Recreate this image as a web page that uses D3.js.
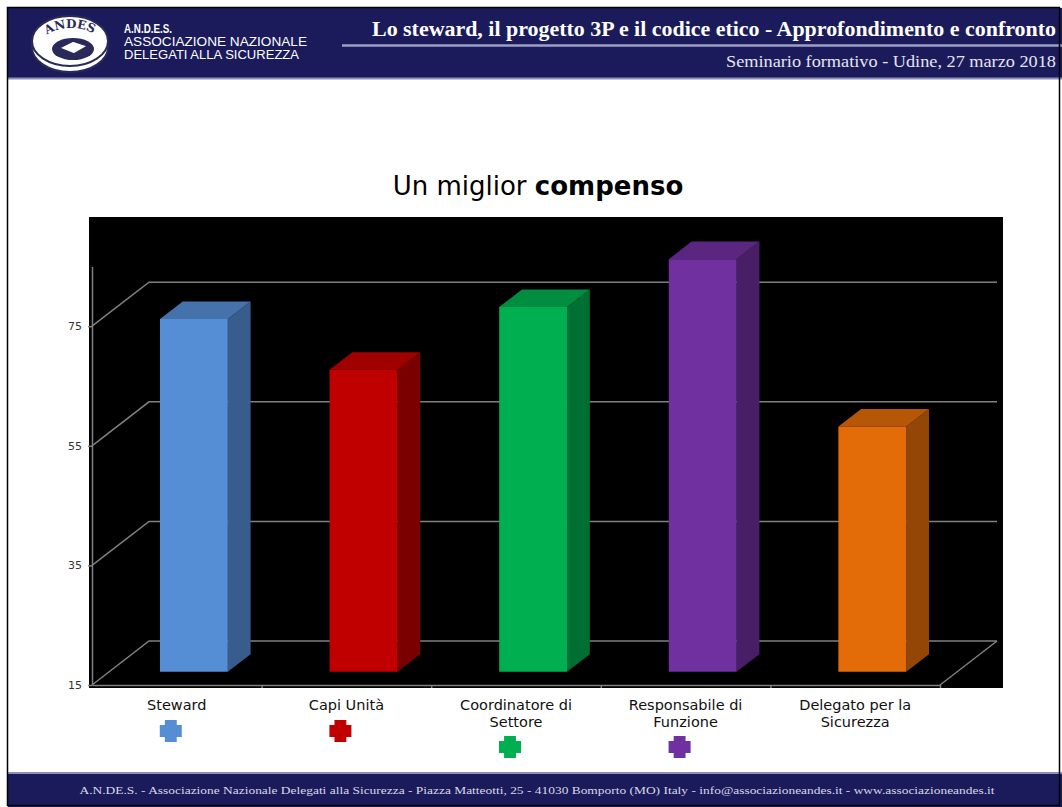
<!DOCTYPE html>
<html>
<head>
<meta charset="utf-8">
<script src="https://cdn.jsdelivr.net/npm/d3@7/dist/d3.min.js"></script>
<style>
  html, body { margin: 0; padding: 0; background: #ffffff; }
  svg { display: block; }
</style>
</head>
<body>
<svg id="chart" width="1062" height="807"></svg>
<script>
// ---- data ----
const categories = ["Steward", "Capi Unità", "Coordinatore di Settore", "Responsabile di Funzione", "Delegato per la Sicurezza"];
const tickLabelLines = [["Steward"], ["Capi Unità"], ["Coordinatore di", "Settore"], ["Responsabile di", "Funzione"], ["Delegato per la", "Sicurezza"]];
const values = [74, 65.5, 76, 84, 56];
const yTicks = [15, 35, 55, 75];
const legendShown = [true, true, true, true, false];
const frontColors = ["#558ED5", "#C00000", "#00B050", "#7030A0", "#E36C09"];
const sideColors  = ["#385C8C", "#7A0000", "#006F33", "#481F67", "#944606"];
const topColors   = ["#4572AB", "#A10000", "#008D40", "#5A2680", "#B65607"];
const chartTitleRegular = "Un miglior ";
const chartTitleBold = "compenso";
const headerTitle = "Lo steward, il progetto 3P e il codice etico - Approfondimento e confronto";
const headerSubtitle = "Seminario formativo - Udine, 27 marzo 2018";
const footerText = "A.N.DE.S. - Associazione Nazionale Delegati alla Sicurezza - Piazza Matteotti, 25 - 41030 Bomporto (MO) Italy - info@associazioneandes.it - www.associazioneandes.it";

const svg = d3.select("#chart");
const NAVY = "#1b1b5c";

// ---- slide header ----
svg.append("rect").attr("x", 8).attr("y", 8).attr("width", 1054).attr("height", 70).attr("fill", NAVY);
svg.append("line").attr("x1", 8).attr("x2", 1062).attr("y1", 78.5).attr("y2", 78.5).attr("stroke", "#8d90b8").attr("stroke-width", 2);
svg.append("line").attr("x1", 342).attr("x2", 1062).attr("y1", 45.5).attr("y2", 45.5).attr("stroke", "#9da0c2").attr("stroke-width", 2.5);
svg.append("text").attr("x", 1056).attr("y", 36).attr("text-anchor", "end")
  .attr("font-family", "Liberation Serif, serif").attr("font-weight", "bold").attr("font-size", 20)
  .attr("fill", "#ffffff").attr("textLength", 684).attr("lengthAdjust", "spacingAndGlyphs").text(headerTitle);
svg.append("text").attr("x", 1056).attr("y", 67).attr("text-anchor", "end")
  .attr("font-family", "Liberation Serif, serif").attr("font-size", 16)
  .attr("fill", "#e6e6ee").attr("textLength", 330).attr("lengthAdjust", "spacingAndGlyphs").text(headerSubtitle);

// logo
const LOGO_INK = "#2a2a5a";
const logo = svg.append("g");
logo.append("ellipse").attr("cx", 70).attr("cy", 47).attr("rx", 38).attr("ry", 25).attr("fill", "#ffffff").attr("stroke", LOGO_INK).attr("stroke-width", 2);
logo.append("ellipse").attr("cx", 70).attr("cy", 41).attr("rx", 38).attr("ry", 25).attr("fill", "#ffffff").attr("stroke", LOGO_INK).attr("stroke-width", 2);
logo.append("ellipse").attr("cx", 73).attr("cy", 49).attr("rx", 21).attr("ry", 11).attr("fill", LOGO_INK);
logo.append("path").attr("d", "M59,48 L73,41 L88,46 L74,54 Z").attr("fill", "#ffffff").attr("stroke", LOGO_INK).attr("stroke-width", 1.5);
const defs = svg.append("defs");
defs.append("path").attr("id", "logoArc").attr("d", "M41,46 A30,17 0 0 1 101,44");
logo.append("text").attr("font-family", "DejaVu Serif, serif").attr("font-weight", "bold").attr("font-size", 12).attr("fill", LOGO_INK)
  .append("textPath").attr("href", "#logoArc").attr("startOffset", "50%").attr("text-anchor", "middle").text("ANDES");
const logoText = svg.append("g").attr("font-family", "Liberation Sans, sans-serif").attr("fill", "#ffffff");
logoText.append("text").attr("x", 124).attr("y", 33).attr("font-weight", "bold").attr("font-size", 12)
  .attr("textLength", 48).attr("lengthAdjust", "spacingAndGlyphs").text("A.N.D.E.S.");
logoText.append("text").attr("x", 124).attr("y", 46).attr("font-size", 12.5)
  .attr("textLength", 183).attr("lengthAdjust", "spacingAndGlyphs").text("ASSOCIAZIONE NAZIONALE");
logoText.append("text").attr("x", 124).attr("y", 59).attr("font-size", 12.5)
  .attr("textLength", 175).attr("lengthAdjust", "spacingAndGlyphs").text("DELEGATI ALLA SICUREZZA");

// ---- footer ----
svg.append("line").attr("x1", 8).attr("x2", 1062).attr("y1", 773).attr("y2", 773).attr("stroke", "#8d90b8").attr("stroke-width", 2);
svg.append("rect").attr("x", 8).attr("y", 774).attr("width", 1054).attr("height", 33).attr("fill", NAVY);
svg.append("text").attr("x", 537).attr("y", 794).attr("text-anchor", "middle")
  .attr("font-family", "Liberation Serif, serif").attr("font-size", 11)
  .attr("fill", "#d8d8e6").attr("textLength", 915).attr("lengthAdjust", "spacingAndGlyphs").text(footerText);

// frame
svg.append("rect").attr("x", 7.5).attr("y", 7.5).attr("width", 1052).attr("height", 798)
  .attr("fill", "none").attr("stroke", "#000000").attr("stroke-width", 1.5);

// ---- chart title ----
const t = svg.append("text").attr("x", 538).attr("y", 195).attr("text-anchor", "middle")
  .attr("font-family", "DejaVu Sans, Verdana, sans-serif").attr("font-size", 26).attr("fill", "#000");
t.append("tspan").text(chartTitleRegular);
t.append("tspan").attr("font-weight", "bold").text(chartTitleBold);

// ---- chart area ----
svg.append("rect").attr("x", 89).attr("y", 217).attr("width", 914).attr("height", 471).attr("fill", "#000000");

const y = d3.scaleLinear().domain([15, 85]).range([685, 266.4]);
const x = d3.scaleBand().domain(categories).range([92, 940]).paddingInner(0.6).paddingOuter(0.3);
const xIdx = d3.scaleLinear().domain([0, categories.length]).range([92, 940]);
const DX = 57, DY = -44;
const F0 = 0.3, F1 = 0.7;
const P = (px, v, f) => [px + DX * f, y(v) + DY * f];
const line = d3.line();
const GRID = "#808080";

const grid = svg.append("g").attr("fill", "none").attr("stroke", GRID).attr("stroke-width", 1.5);
yTicks.forEach(v => {
  grid.append("path").attr("d", line([P(xIdx(0), v, 0), P(xIdx(0), v, 1), P(xIdx(categories.length), v, 1)]));
});
// floor right edge
grid.append("path").attr("d", line([P(xIdx(categories.length), y.domain()[0], 0), P(xIdx(categories.length), y.domain()[0], 1)]));

// bars
const bars = svg.append("g");
categories.forEach((c, i) => {
  const x0 = x(c), x1 = x(c) + x.bandwidth();
  const v = values[i], b = y.domain()[0];
  const g = bars.append("g");
  g.append("path").attr("fill", sideColors[i])
    .attr("d", line([P(x1, b, F0), P(x1, b, F1), P(x1, v, F1), P(x1, v, F0)]) + "Z");
  g.append("path").attr("fill", topColors[i])
    .attr("d", line([P(x0, v, F0), P(x1, v, F0), P(x1, v, F1), P(x0, v, F1)]) + "Z");
  g.append("path").attr("fill", frontColors[i])
    .attr("d", line([P(x0, v, F0), P(x1, v, F0), P(x1, b, F0), P(x0, b, F0)]) + "Z");
});

// value axis
const yAxis = svg.append("g").attr("transform", `translate(${xIdx(0)},0)`)
  .call(d3.axisLeft(y).tickValues(yTicks).tickSizeInner(4).tickSizeOuter(0).tickPadding(6));
yAxis.select(".domain").attr("stroke", GRID).attr("stroke-width", 1.5);
yAxis.selectAll(".tick line").attr("stroke", GRID).attr("stroke-width", 1.5);
yAxis.selectAll(".tick text").attr("font-family", "DejaVu Sans, Verdana, sans-serif").attr("font-size", 11).attr("fill", "#333");

// category axis
const xAxis = svg.append("g").attr("transform", `translate(0,${y(y.domain()[0])})`)
  .call(d3.axisBottom(xIdx).tickValues(d3.range(1, categories.length + 1)).tickFormat("").tickSizeInner(3).tickSizeOuter(0));
xAxis.select(".domain").attr("stroke", GRID).attr("stroke-width", 1.5);
xAxis.selectAll(".tick line").attr("stroke", GRID).attr("stroke-width", 1.5);

// category labels and legend crosses
const crossPath = (cx, cy, s) => {
  const h = s / 2, a = s * 0.27;
  return `M${cx - a},${cy - h}H${cx + a}V${cy - a}H${cx + h}V${cy + a}H${cx + a}V${cy + h}H${cx - a}V${cy + a}H${cx - h}V${cy - a}H${cx - a}Z`;
};
categories.forEach((c, i) => {
  const cx = x(c) + x.bandwidth() / 2;
  const lines = tickLabelLines[i];
  const txt = svg.append("text").attr("text-anchor", "middle")
    .attr("font-family", "DejaVu Sans, Verdana, sans-serif").attr("font-size", 14.5).attr("fill", "#111");
  lines.forEach((l, k) => txt.append("tspan").attr("x", cx).attr("y", 710 + k * 17).text(l));
  if (legendShown[i]) {
    const cy = 731 + (lines.length - 1) * 16;
    svg.append("path").attr("d", crossPath(cx - 6, cy, 22)).attr("fill", frontColors[i]);
  }
});
</script>
</body>
</html>
